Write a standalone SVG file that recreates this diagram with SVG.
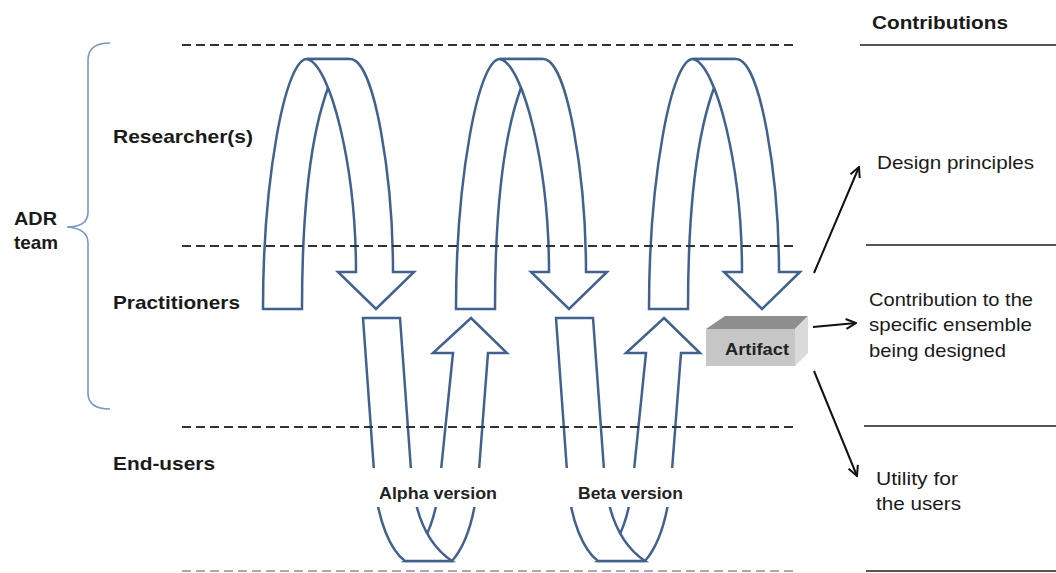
<svg xmlns="http://www.w3.org/2000/svg" width="1056" height="573" viewBox="0 0 1056 573">
<defs>
<style>
.band{fill:#fff;stroke:#41618f;stroke-width:2.5;stroke-linejoin:miter}
.dash{stroke:#333;stroke-width:2;stroke-dasharray:9 5;fill:none}
.rule{stroke:#555;stroke-width:2;fill:none}
.lbl{font-family:"Liberation Sans",Arial,sans-serif;font-size:19px;font-weight:bold;fill:#1a1a1a}
.txt{font-family:"Liberation Sans",Arial,sans-serif;font-size:19px;fill:#1a1a1a}
.ver{font-family:"Liberation Sans",Arial,sans-serif;font-size:16px;font-weight:bold;fill:#222}
.conn{stroke:#111;stroke-width:2;fill:none}
</style>
<marker id="ah" viewBox="0 0 12 12" refX="11" refY="6" markerWidth="12" markerHeight="12" markerUnits="userSpaceOnUse" orient="auto">
<path d="M1,1 L11,6 L1,11" fill="none" stroke="#111" stroke-width="2"/>
</marker>
<g id="arch">
<path class="band" d="M263,309 C263,180 285,59 307,59 L345,59 L340,62 C312,110 302,200 302,309 Z"/>
<path class="band" d="M307,59 L350,59 C375,59 393,180 393,272 L414,272 L376,309 L338,272 L356,272 C356,165 330,64 307,59 Z"/>
</g>
<g id="ushape">
<path class="band" d="M471,318 L507,353 L488,353 L479,470 C476,515 466,545 452,561 L405,561 C425,548 436,520 440,480 L453,353 L433,353 Z"/>
<path class="band" d="M363,318 L400,318 L411,470 C414,515 428,545 452,561 L405,561 C390,550 378,520 375,485 Z"/>
</g>
</defs>

<g id="brace">
<path d="M110,43 C96,43 88,48 88,60 L88,212 C88,222 81,227 67,227 C81,228 88,233 88,243 L88,393 C88,404 96,409 110,409" fill="none" stroke="#7a96c4" stroke-width="1.6"/>
</g>

<g id="cycles">
<g id="cycle1"><use href="#arch"/><use href="#ushape"/></g>
<g id="cycle2"><use href="#arch" transform="translate(193,0)"/><use href="#ushape" transform="translate(193,0)"/></g>
<g id="cycle3"><use href="#arch" transform="translate(386,0)"/></g>
</g>

<g id="swimlanes">
<line class="dash" x1="182" y1="45" x2="798" y2="45"/>
<line class="dash" x1="182" y1="246" x2="798" y2="246"/>
<line class="dash" x1="182" y1="427" x2="798" y2="427"/>
<line x1="182" y1="571" x2="798" y2="571" stroke="#aaa" stroke-width="2" stroke-dasharray="9 5"/>
<line class="rule" x1="860" y1="45" x2="1056" y2="45"/>
<line class="rule" x1="866" y1="245" x2="1056" y2="245"/>
<line class="rule" x1="864" y1="426" x2="1056" y2="426"/>
<line class="rule" x1="866" y1="571" x2="1056" y2="571"/>
</g>

<g id="version-labels">
<rect x="370" y="468" width="135" height="39" fill="#fff"/>
<text class="ver" x="379" y="499" textLength="118" lengthAdjust="spacingAndGlyphs">Alpha version</text>
<rect x="563" y="468" width="135" height="39" fill="#fff"/>
<text class="ver" x="578" y="499" textLength="105" lengthAdjust="spacingAndGlyphs">Beta version</text>
</g>

<g id="artifact">
<polygon points="706,329 725,316 808,316 795,329" fill="#8e8e8e"/>
<polygon points="795,329 808,316 808,353 795,366" fill="#dadada"/>
<rect x="706" y="329" width="89" height="37" fill="#c6c6c6"/>
<text class="ver" x="725" y="355" textLength="64" lengthAdjust="spacingAndGlyphs">Artifact</text>
</g>

<g id="connectors">
<line class="conn" x1="814" y1="273" x2="859" y2="167" marker-end="url(#ah)"/>
<line class="conn" x1="813" y1="327" x2="856" y2="323" marker-end="url(#ah)"/>
<line class="conn" x1="814" y1="371" x2="857" y2="476" marker-end="url(#ah)"/>
</g>

<g id="labels">
<text class="lbl" x="14" y="225" textLength="43" lengthAdjust="spacingAndGlyphs">ADR</text>
<text class="lbl" x="14" y="249" textLength="44" lengthAdjust="spacingAndGlyphs">team</text>
<text class="lbl" x="113" y="143" textLength="140" lengthAdjust="spacingAndGlyphs">Researcher(s)</text>
<text class="lbl" x="113" y="309" textLength="127" lengthAdjust="spacingAndGlyphs">Practitioners</text>
<text class="lbl" x="113" y="470" textLength="102" lengthAdjust="spacingAndGlyphs">End-users</text>
<text class="lbl" x="872" y="29" textLength="136" lengthAdjust="spacingAndGlyphs">Contributions</text>
<text class="txt" x="877" y="169" textLength="157" lengthAdjust="spacingAndGlyphs">Design principles</text>
<text class="txt" x="869" y="306" textLength="164" lengthAdjust="spacingAndGlyphs">Contribution to the</text>
<text class="txt" x="869" y="331" textLength="163" lengthAdjust="spacingAndGlyphs">specific ensemble</text>
<text class="txt" x="869" y="357" textLength="137" lengthAdjust="spacingAndGlyphs">being designed</text>
<text class="txt" x="876" y="485" textLength="82" lengthAdjust="spacingAndGlyphs">Utility for</text>
<text class="txt" x="876" y="510" textLength="85" lengthAdjust="spacingAndGlyphs">the users</text>
</g>
</svg>
